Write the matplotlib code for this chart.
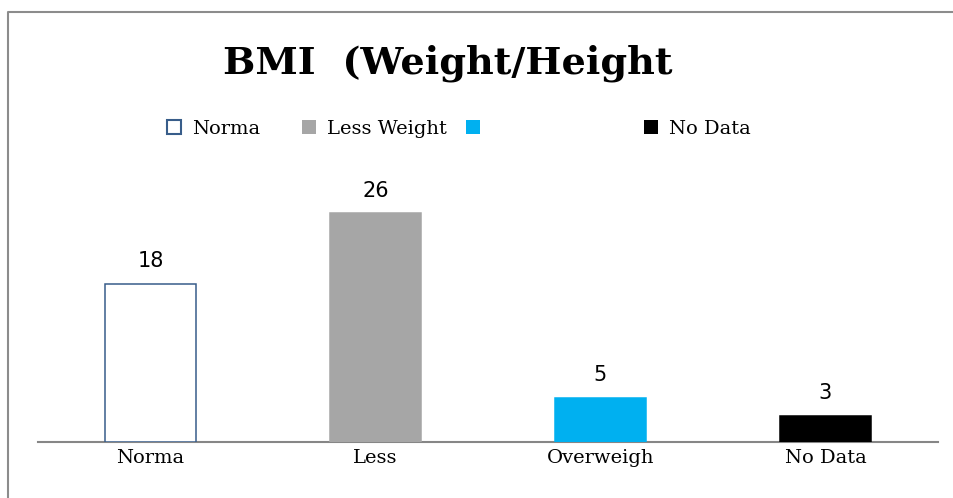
import matplotlib
matplotlib.use("Agg")
import matplotlib.pyplot as plt
from matplotlib.patches import Rectangle
from matplotlib.lines import Line2D

# ---- data ----
categories = ["Norma", "Less", "Overweigh", "No Data"]
values = [18, 26, 5, 3]
legend_labels = ["Norma", "Less Weight", "", "No Data"]
title = "BMI  (Weight/Height"

face_colors = ["white", "#A6A6A6", "#00B0F0", "black"]
edge_colors = ["#385D8A", "#A6A6A6", "#00B0F0", "black"]

W, H = 954, 498
fig = plt.figure(figsize=(W / 100, H / 100), dpi=100)


def px(x, y):
    return x / W, 1 - y / H


# axes placed in pixel terms: x 38..938, baseline at y=442
ax = fig.add_axes([38 / W, (H - 442) / H, 900 / W, 264 / H])
ax.set_xlim(-0.5, len(categories) - 0.5)
ax.set_ylim(0, 30)

xs = range(len(categories))
bars = ax.bar(xs, values, width=0.404, color=face_colors, edgecolor=edge_colors,
              linewidth=1.1, zorder=3)

for x, v in zip(xs, values):
    ax.annotate(str(v), (x, v), xytext=(0, 12), textcoords="offset points",
                ha="center", va="baseline", fontsize=15, family="DejaVu Sans")

for s in ["top", "left", "right"]:
    ax.spines[s].set_visible(False)
ax.spines["bottom"].set_color("#868686")
ax.spines["bottom"].set_linewidth(1.5)
ax.set_yticks([])
ax.set_xticks(list(xs))
ax.set_xticklabels(categories, family="DejaVu Serif", fontsize=14)
ax.tick_params(axis="x", length=0, pad=5)

# title
fig.text(*px(448, 73), title, ha="center", va="baseline",
         family="DejaVu Serif", weight="bold", fontsize=27.5)

# legend drawn by hand
leg_x = [167, 302, 466, 644]
box = 14
for lx, lab, fc, ec in zip(leg_x, legend_labels, face_colors, edge_colors):
    x0, y0 = px(lx, 134)
    fig.add_artist(Rectangle((x0, y0), box / W, box / H, transform=fig.transFigure,
                             facecolor=fc, edgecolor=ec, linewidth=1.5 if fc == "white" else 0))
    if lab:
        fig.text(*px(lx + box + 11, 134), lab, ha="left", va="baseline",
                 family="DejaVu Serif", fontsize=14)

# outer frame (left and top visible)
fig.add_artist(Line2D([8 / W, 8 / W, 1], [0, 1 - 12 / H, 1 - 12 / H],
                      transform=fig.transFigure, color="#8C8C8C", linewidth=1.5))

fig.savefig("out.png", dpi=100)
